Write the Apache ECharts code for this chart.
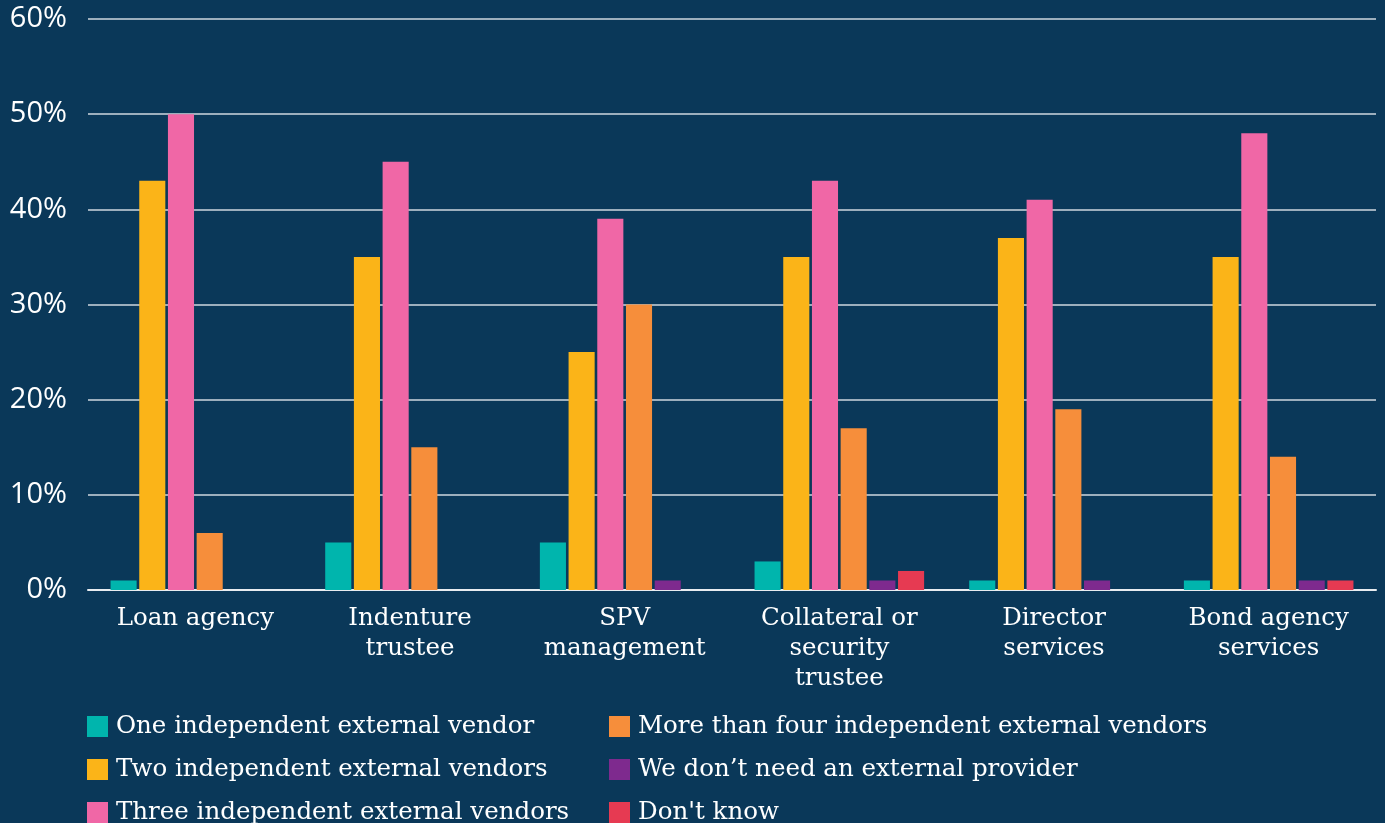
<!DOCTYPE html>
<html>
<head>
<meta charset="utf-8">
<script src="https://cdn.jsdelivr.net/npm/echarts@6/dist/echarts.min.js"></script>
<style>
html,body{margin:0;padding:0;background:#0a3859;}
#chart{width:1385px;height:823px;}
</style>
</head>
<body>
<div id="chart"></div>
<script>
var categories = ['Loan agency', 'Indenture\ntrustee', 'SPV\nmanagement', 'Collateral or\nsecurity\ntrustee', 'Director\nservices', 'Bond agency\nservices'];
var seriesNames = ['One independent external vendor', 'Two independent external vendors', 'Three independent external vendors', 'More than four independent external vendors', 'We don\u2019t need an external provider', "Don't know"];
var oneVendor = [1, 5, 5, 3, 1, 1];
var twoVendors = [43, 35, 25, 35, 37, 35];
var threeVendors = [50, 45, 39, 43, 41, 48];
var moreThanFour = [6, 15, 30, 17, 19, 14];
var noNeed = [0, 0, 1, 1, 1, 1];
var dontKnow = [0, 0, 0, 2, 0, 1];
var yTicks = [0, 10, 20, 30, 40, 50, 60];

var colors = ['#00b5ad', '#fbb418', '#f067a6', '#f68e3b', '#7e2a8e', '#e63a52'];
var values = [oneVendor, twoVendors, threeVendors, moreThanFour, noNeed, dontKnow];
var serifFont = 'DejaVu Serif';

var chart = echarts.init(document.getElementById('chart'));
var series = values.map(function (v, i) {
  return {
    name: seriesNames[i],
    type: 'bar',
    data: v,
    barGap: '10%',
    barCategoryGap: '21%',
    itemStyle: { color: colors[i] }
  };
});
function makeLegend(left, names) {
  return {
    orient: 'horizontal',
    left: left,
    top: 714,
    width: 40,
    padding: 0,
    itemWidth: 21,
    itemHeight: 21,
    itemGap: 18,
    icon: 'rect',
    data: names,
    textStyle: { color: '#ffffff', fontFamily: serifFont, fontSize: 24.5, lineHeight: 21, padding: [0, 0, 0, 3] }
  };
}
chart.setOption({
  backgroundColor: '#0a3859',
  animation: false,
  color: colors,
  grid: { left: 88, right: 9, top: 19, bottom: 233, containLabel: false },
  legend: [
    makeLegend(87, seriesNames.slice(0, 3)),
    makeLegend(609, seriesNames.slice(3, 6))
  ],
  xAxis: {
    type: 'category',
    data: categories,
    axisLine: { show: true, lineStyle: { color: '#e8ecf0', width: 2 } },
    axisTick: { show: false },
    axisLabel: { color: '#ffffff', fontFamily: serifFont, fontSize: 24.5, lineHeight: 30, margin: 14, interval: 0 }
  },
  yAxis: {
    type: 'value',
    min: 0,
    max: 60,
    interval: 10,
    axisLine: { show: false },
    axisTick: { show: false },
    splitLine: { lineStyle: { color: '#cfd7df', width: 1.5 } },
    axisLabel: {
      color: '#ffffff',
      fontFamily: 'Open Sans',
      fontSize: 29,
      margin: 21,
      formatter: function (v) { return yTicks.indexOf(v) >= 0 ? v + '%' : ''; }
    }
  },
  series: series
});
</script>
</body>
</html>
